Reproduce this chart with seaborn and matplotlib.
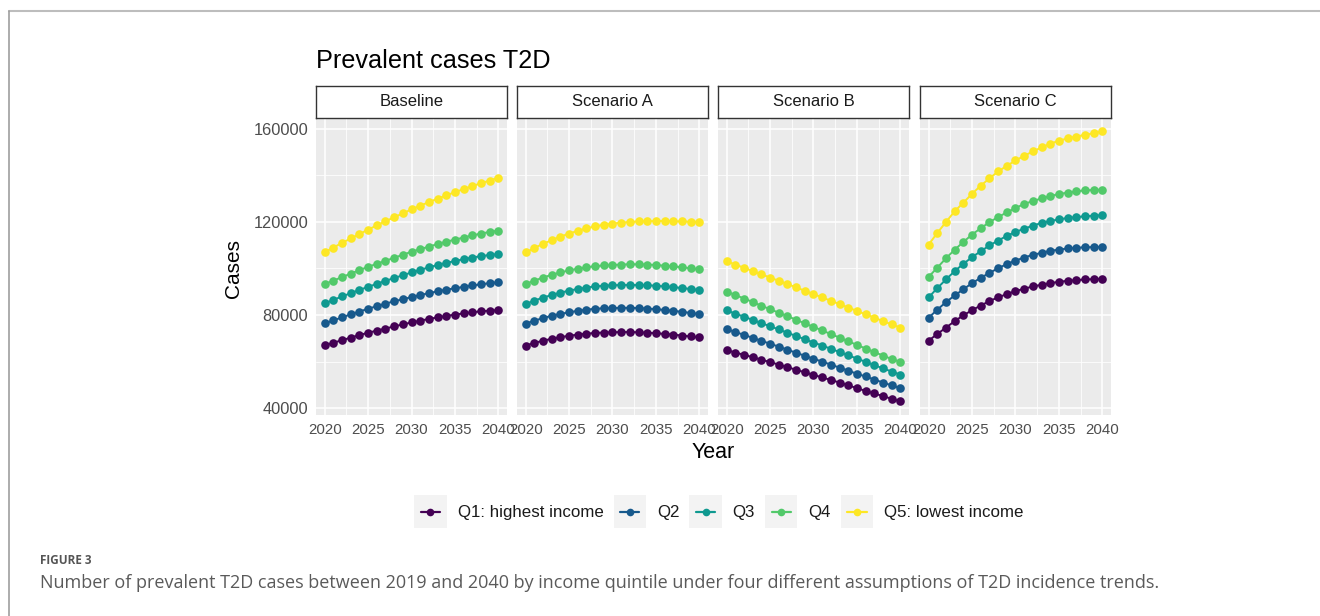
import numpy as np
import pandas as pd
import matplotlib
matplotlib.use("Agg")
import matplotlib.pyplot as plt
import seaborn as sns
from matplotlib.lines import Line2D
from matplotlib.patches import Rectangle
from matplotlib.legend_handler import HandlerLine2D

years = list(range(2020, 2041))
scenarios = ["Baseline", "Scenario A", "Scenario B", "Scenario C"]
quintiles = ["Q1: highest income", "Q2", "Q3", "Q4", "Q5: lowest income"]
colors = ["#440154", "#17598C", "#0F9990", "#52C96A", "#FDE725"]

baseline_q1 = [67000, 68100, 69200, 70300, 71400, 72400, 73300, 74200, 75100, 76000, 76800, 77600, 78300, 79000, 79600, 80200, 80700, 81200, 81600, 81900, 82100]
baseline_q2 = [76400, 77700, 79000, 80300, 81500, 82700, 83800, 84900, 85900, 86800, 87700, 88600, 89400, 90200, 90900, 91500, 92100, 92700, 93200, 93700, 94100]
baseline_q3 = [85000, 86500, 88000, 89400, 90800, 92100, 93400, 94700, 95900, 97100, 98300, 99400, 100500, 101500, 102400, 103200, 104000, 104700, 105300, 105800, 106200]
baseline_q4 = [93300, 94800, 96300, 97800, 99300, 100700, 102000, 103300, 104600, 105900, 107200, 108300, 109400, 110500, 111500, 112400, 113300, 114200, 115000, 115700, 116300]
baseline_q5 = [107000, 109000, 111000, 112900, 114800, 116700, 118500, 120300, 122000, 123700, 125400, 127000, 128500, 130000, 131400, 132800, 134100, 135400, 136600, 137800, 139000]

scen_a_q1 = [66900, 68000, 69000, 69800, 70500, 71100, 71600, 72000, 72300, 72500, 72600, 72700, 72700, 72600, 72400, 72200, 71900, 71600, 71200, 70800, 70400]
scen_a_q2 = [76300, 77600, 78700, 79700, 80500, 81200, 81800, 82300, 82700, 82900, 83000, 83100, 83100, 83000, 82800, 82500, 82200, 81800, 81400, 80900, 80400]
scen_a_q3 = [84700, 86200, 87500, 88600, 89600, 90500, 91200, 91800, 92300, 92600, 92800, 92900, 92900, 92900, 92800, 92600, 92300, 92000, 91600, 91200, 90700]
scen_a_q4 = [93300, 94800, 96100, 97300, 98300, 99200, 99900, 100500, 101000, 101300, 101500, 101700, 101800, 101800, 101700, 101500, 101200, 100900, 100500, 100100, 99600]
scen_a_q5 = [106900, 108800, 110600, 112200, 113700, 115000, 116200, 117200, 118100, 118800, 119300, 119700, 120000, 120200, 120300, 120400, 120400, 120300, 120200, 120100, 120000]

scen_b_q1 = [64900, 63900, 62900, 61900, 60800, 59800, 58700, 57600, 56500, 55400, 54300, 53200, 52100, 51000, 49800, 48600, 47400, 46300, 45200, 44000, 42900]
scen_b_q2 = [74000, 72700, 71500, 70200, 68900, 67700, 66400, 65100, 63800, 62500, 61200, 60000, 58700, 57400, 56100, 54800, 53600, 52300, 51000, 49800, 48600]
scen_b_q3 = [82000, 80600, 79300, 77900, 76500, 75200, 73800, 72400, 71000, 69600, 68200, 66900, 65500, 64100, 62700, 61300, 59900, 58500, 57100, 55700, 54400]
scen_b_q4 = [90100, 88600, 87100, 85600, 84000, 82500, 81000, 79500, 78000, 76400, 74900, 73400, 71800, 70300, 68700, 67200, 65600, 64100, 62600, 61100, 59900]
scen_b_q5 = [103100, 101700, 100300, 98900, 97500, 96100, 94700, 93300, 91900, 90400, 89000, 87600, 86100, 84700, 83200, 81800, 80300, 78900, 77400, 76000, 74600]

scen_c_q1 = [69000, 71900, 74600, 77400, 79900, 82100, 84100, 86000, 87600, 89000, 90300, 91300, 92300, 93000, 93700, 94300, 94700, 95000, 95300, 95400, 95600]
scen_c_q2 = [78900, 82300, 85600, 88400, 91100, 93700, 96000, 98100, 100100, 101900, 103400, 104700, 105900, 106700, 107600, 108100, 108600, 108900, 109100, 109200, 109300]
scen_c_q3 = [87600, 91600, 95300, 98900, 102000, 104900, 107400, 109900, 112000, 114000, 115700, 117100, 118400, 119600, 120400, 121100, 121700, 122100, 122400, 122700, 122900]
scen_c_q4 = [96400, 100400, 104400, 108100, 111400, 114600, 117300, 119900, 122100, 124100, 126000, 127700, 129000, 130100, 131100, 132000, 132600, 133100, 133600, 133700, 133900]
scen_c_q5 = [110300, 115300, 120000, 124600, 128300, 132100, 135600, 138700, 141700, 144100, 146400, 148400, 150300, 152000, 153600, 154900, 155900, 156700, 157400, 158100, 158900]

series = {
    "Baseline": [baseline_q1, baseline_q2, baseline_q3, baseline_q4, baseline_q5],
    "Scenario A": [scen_a_q1, scen_a_q2, scen_a_q3, scen_a_q4, scen_a_q5],
    "Scenario B": [scen_b_q1, scen_b_q2, scen_b_q3, scen_b_q4, scen_b_q5],
    "Scenario C": [scen_c_q1, scen_c_q2, scen_c_q3, scen_c_q4, scen_c_q5],
}

rows = []
for s in scenarios:
    for q, vals in zip(quintiles, series[s]):
        for y, v in zip(years, vals):
            rows.append({"scenario": s, "quintile": q, "year": y, "cases": v})
df = pd.DataFrame(rows)

sns.set_theme(style="white")
plt.rcParams["font.family"] = ["Liberation Sans", "DejaVu Sans"]

W, H = 1320, 616
fig = plt.figure(figsize=(W / 100, H / 100), dpi=100)

def fx(px):
    return px / W

def fy(py):
    return 1 - py / H

panel_left = [316, 517, 718, 920]
panel_w = 191
panel_top, panel_bot = 118, 415
strip_top = 86

palette = dict(zip(quintiles, colors))

for i, s in enumerate(scenarios):
    ax = fig.add_axes([fx(panel_left[i]), fy(panel_bot), fx(panel_w), (panel_bot - panel_top) / H])
    ax.set_facecolor("#EBEBEB")
    sub = df[df["scenario"] == s]
    sns.lineplot(data=sub, x="year", y="cases", hue="quintile", palette=palette,
                 hue_order=quintiles, marker="o", markersize=6.2, markeredgewidth=0,
                 linewidth=1.4, ax=ax, legend=False, zorder=3)
    ax.set_xlim(2019, 2041)
    ax.set_ylim(37057, 164657)
    ax.set_xticks([2020, 2025, 2030, 2035, 2040])
    ax.set_xticks([2022.5, 2027.5, 2032.5, 2037.5], minor=True)
    ax.set_yticks([40000, 80000, 120000, 160000])
    ax.set_yticks([60000, 100000, 140000], minor=True)
    ax.grid(which="major", color="white", linewidth=1.1, zorder=0)
    ax.grid(which="minor", color="white", linewidth=0.55, zorder=0)
    ax.set_axisbelow(True)
    for sp in ax.spines.values():
        sp.set_visible(False)
    ax.tick_params(axis="both", which="major", direction="out", length=3.5, width=0.8,
                   color="#333333", labelcolor="#4D4D4D", pad=2)
    ax.tick_params(axis="x", which="major", labelsize=10.8)
    ax.tick_params(axis="y", which="major", labelsize=11.8)
    ax.tick_params(axis="both", which="minor", length=0)
    ax.set_xlabel("")
    ax.set_ylabel("")
    if i > 0:
        ax.tick_params(axis="y", which="major", left=False, labelleft=False)
    else:
        ax.yaxis.set_major_formatter(matplotlib.ticker.FuncFormatter(lambda v, p: f"{int(v)}"))
    sax = fig.add_axes([fx(panel_left[i]), fy(panel_top), fx(panel_w), (panel_top - strip_top) / H])
    sax.set_xticks([])
    sax.set_yticks([])
    sax.set_facecolor("white")
    for sp in sax.spines.values():
        sp.set_visible(True)
        sp.set_color("#333333")
        sp.set_linewidth(1.0)
    sax.text(0.5, 0.5, s, ha="center", va="center", fontsize=12, color="#1A1A1A",
             transform=sax.transAxes)

fig.text(fx(316), fy(61), "Prevalent cases T2D", fontsize=18.2, ha="left", va="center", color="black")
fig.text(fx(234), fy(268), "Cases", fontsize=15, rotation=90, ha="center", va="center", color="black")
fig.text(fx(713), fy(453), "Year", fontsize=15.5, ha="center", va="center", color="black")


class KeyHandler(HandlerLine2D):
    def get_xdata(self, legend, xdescent, ydescent, width, height, fontsize):
        c = -xdescent + width / 2
        half = width * 0.3
        xd = np.array([c - half, c + half])
        return xd, np.array([c])

    def create_artists(self, legend, orig_handle, xdescent, ydescent, width, height, fontsize, trans):
        artists = super().create_artists(legend, orig_handle, xdescent, ydescent, width, height, fontsize, trans)
        cy = -ydescent + height / 2
        half_h = 12.0
        rect = Rectangle((-xdescent, cy - half_h), width, 2 * half_h,
                         facecolor="#F3F3F3", edgecolor="none", transform=trans, zorder=0)
        return [rect] + artists


handles = [Line2D([0], [0], color=c, marker="o", markersize=5.5, linewidth=1.6, markeredgewidth=0)
           for c in colors]
fig.legend(handles, quintiles, loc="center", bbox_to_anchor=(fx(719), fy(513)), ncol=5,
           frameon=False, fontsize=12.2, handlelength=1.9, handletextpad=0.65, columnspacing=0.6,
           handler_map={Line2D: KeyHandler()}, labelcolor="#1A1A1A")

fig.text(fx(40), fy(560), "FIGURE 3", fontsize=8.5, ha="left", va="center", color="#555555",
         family=["Open Sans", "DejaVu Sans"], fontweight="bold")
fig.text(fx(40), fy(583), "Number of prevalent T2D cases between 2019 and 2040 by income quintile under four different assumptions of T2D incidence trends.",
         fontsize=13, ha="left", va="center", color="#5A5A5A", family=["Open Sans", "DejaVu Sans"])

fig.add_artist(Line2D([fx(9), 1], [fy(11), fy(11)], color="#BDBDBD", linewidth=1.5, transform=fig.transFigure))
fig.add_artist(Line2D([fx(9), fx(9)], [fy(11), 0], color="#9E9E9E", linewidth=1.2, transform=fig.transFigure))

fig.savefig("out.png", dpi=100)
